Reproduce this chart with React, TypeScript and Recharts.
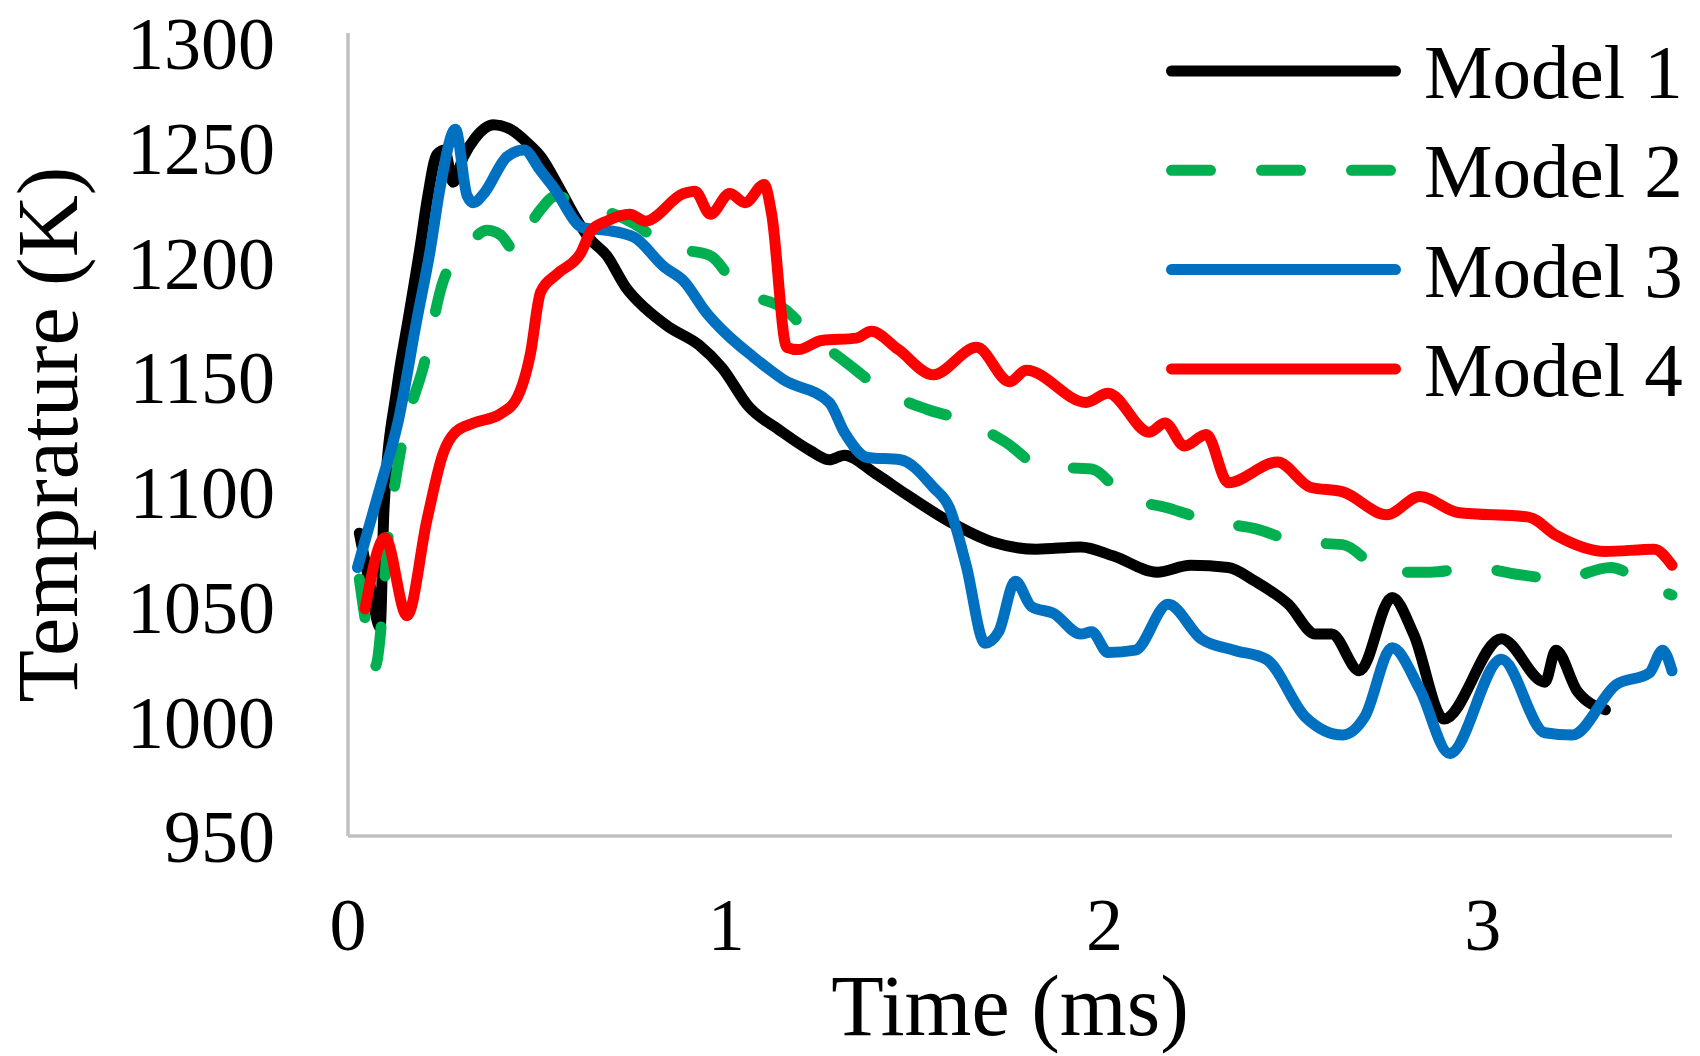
import { LineChart, Line, XAxis, YAxis, Legend } from 'recharts';

// [time (ms), temperature (K)]
const model1 = [
  [0.03, 1082], [0.06, 1058], [0.085, 1041], [0.095, 1092], [0.13, 1146], [0.16, 1176],
  [0.19, 1206], [0.21, 1228], [0.235, 1247], [0.255, 1249], [0.278, 1235], [0.305, 1246],
  [0.335, 1254], [0.385, 1260], [0.43, 1258], [0.475, 1252], [0.51, 1246], [0.56, 1232],
  [0.6, 1220], [0.635, 1211], [0.684, 1203], [0.735, 1189], [0.786, 1180], [0.847, 1172],
  [0.928, 1164], [0.989, 1154], [1.06, 1137], [1.14, 1127], [1.222, 1118], [1.273, 1114],
  [1.312, 1116], [1.394, 1108], [1.475, 1099], [1.59, 1087], [1.706, 1078], [1.82, 1075],
  [1.937, 1076], [2.024, 1072], [2.139, 1065], [2.227, 1068], [2.327, 1067], [2.398, 1061],
  [2.486, 1051], [2.558, 1038], [2.6, 1038], [2.674, 1022], [2.76, 1054], [2.817, 1038],
  [2.897, 1001], [3.049, 1036], [3.164, 1017], [3.193, 1031], [3.25, 1013], [3.324, 1005],
];

const model2 = [
  [0.03, 1062], [0.05, 1040], [0.072, 1024], [0.111, 1088], [0.146, 1124], [0.2, 1155],
  [0.252, 1192], [0.315, 1207], [0.368, 1214], [0.403, 1212], [0.447, 1204], [0.465, 1211],
  [0.509, 1223], [0.55, 1229], [0.6, 1226], [0.65, 1224], [0.755, 1217], [0.845, 1207],
  [0.957, 1203], [1.03, 1189], [1.16, 1179], [1.22, 1169], [1.32, 1156], [1.417, 1144],
  [1.53, 1136], [1.63, 1131], [1.735, 1122], [1.836, 1111], [1.966, 1110], [2.053, 1098],
  [2.168, 1093], [2.284, 1087], [2.398, 1084], [2.515, 1078], [2.629, 1077], [2.746, 1065],
  [2.861, 1065], [2.977, 1067], [3.093, 1064], [3.207, 1062], [3.338, 1067], [3.439, 1059],
  [3.5, 1055],
];

const model3 = [
  [0.025, 1067], [0.085, 1102], [0.133, 1131], [0.182, 1175], [0.217, 1205], [0.244, 1233],
  [0.284, 1258], [0.315, 1229], [0.332, 1226], [0.359, 1230], [0.42, 1246], [0.465, 1249],
  [0.509, 1240], [0.542, 1233], [0.623, 1215], [0.684, 1214], [0.756, 1211], [0.836, 1198],
  [0.887, 1192], [0.948, 1178], [0.999, 1169], [1.07, 1159], [1.15, 1149], [1.272, 1139],
  [1.312, 1126], [1.373, 1115], [1.46, 1114], [1.547, 1102], [1.59, 1093], [1.634, 1068],
  [1.684, 1034], [1.72, 1039], [1.764, 1061], [1.807, 1050], [1.865, 1047], [1.937, 1038],
  [1.966, 1039], [2.009, 1030], [2.081, 1031], [2.168, 1051], [2.255, 1036], [2.342, 1031],
  [2.428, 1027], [2.53, 1002], [2.63, 994], [2.688, 1002], [2.76, 1032], [2.833, 1014],
  [2.912, 986], [3.049, 1027], [3.164, 995], [3.236, 994], [3.353, 1016], [3.44, 1021],
  [3.475, 1031], [3.5, 1022],
];

const model4 = [
  [0.045, 1049], [0.098, 1080], [0.156, 1046], [0.209, 1088], [0.252, 1117], [0.284, 1126],
  [0.332, 1130], [0.403, 1134], [0.447, 1141], [0.482, 1160], [0.509, 1187], [0.553, 1195],
  [0.615, 1204], [0.644, 1214], [0.684, 1218], [0.745, 1221], [0.786, 1218], [0.887, 1230],
  [0.917, 1231], [0.958, 1221], [1.009, 1230], [1.05, 1226], [1.1, 1234], [1.12, 1221],
  [1.16, 1163], [1.19, 1162], [1.252, 1166], [1.344, 1167], [1.383, 1170], [1.455, 1162],
  [1.547, 1151], [1.662, 1163], [1.749, 1148], [1.793, 1153], [1.951, 1139], [2.009, 1143],
  [2.118, 1126], [2.16, 1130], [2.211, 1120], [2.269, 1125], [2.327, 1104], [2.457, 1113],
  [2.544, 1102], [2.63, 1100], [2.746, 1090], [2.833, 1098], [2.934, 1091], [3.121, 1089],
  [3.194, 1081], [3.324, 1074], [3.453, 1075], [3.5, 1068],
];

const xTicks = [0, 1, 2, 3];
const yTicks = [950, 1000, 1050, 1100, 1150, 1200, 1250, 1300];

const SERIES = [
  { name: 'Model 1', points: model1, color: '#000000', dash: undefined },
  { name: 'Model 2', points: model2, color: '#00b050', dash: '39 51' },
  { name: 'Model 3', points: model3, color: '#0070c0', dash: undefined },
  { name: 'Model 4', points: model4, color: '#ff0000', dash: undefined },
];

const FONT = '"Liberation Serif", "Times New Roman", serif';
const AXIS_COLOR = '#c0c0c0';

const toRows = (pts: number[][]) => pts.map(([time, temp]) => ({ time, temp }));

function LegendBox({ payload }: any) {
  return (
    <svg width={550} height={420}>
      {(payload || []).map((entry: any, i: number) => {
        const cfg = SERIES.find((s) => s.name === entry.value);
        const y = 71 + i * 99.3;
        return (
          <g key={entry.value}>
            <line
              x1={21.5}
              x2={245.5}
              y1={y}
              y2={y}
              stroke={cfg ? cfg.color : entry.color}
              strokeWidth={11}
              strokeLinecap="round"
              strokeDasharray={cfg?.dash}
            />
            <text x={274} y={y + 27} fontSize={77} fontFamily={FONT} fill="#000">
              {entry.value}
            </text>
          </g>
        );
      })}
    </svg>
  );
}

function XTitle({ viewBox }: any) {
  const { x, y, width } = viewBox;
  return (
    <text x={x + width / 2} y={y + 199} textAnchor="middle" fontSize={86} fontFamily={FONT} fill="#000">
      Time (ms)
    </text>
  );
}

function YTitle({ viewBox }: any) {
  const { y, height } = viewBox;
  const cx = 77;
  const cy = y + height / 2;
  return (
    <text
      x={cx}
      y={cy}
      textAnchor="middle"
      fontSize={86}
      fontFamily={FONT}
      fill="#000"
      transform={`rotate(-90, ${cx}, ${cy})`}
    >
      Temprature (K)
    </text>
  );
}

export default function App() {
  return (
    <div style={{ position: 'absolute', left: 0, top: 0, background: '#fff' }}>
      <LineChart width={1700} height={1056} margin={{ top: 33, right: 28, left: 0, bottom: 0 }}>
        <XAxis
          dataKey="time"
          type="number"
          domain={[0, 3.5]}
          ticks={xTicks}
          height={220}
          tickLine={false}
          axisLine={{ stroke: AXIS_COLOR, strokeWidth: 3.5 }}
          tick={{ fill: '#000', fontSize: 74, fontFamily: FONT }}
          tickMargin={55}
          label={<XTitle />}
        />
        <YAxis
          type="number"
          domain={[950, 1300]}
          ticks={yTicks}
          width={348}
          tickLine={false}
          axisLine={{ stroke: AXIS_COLOR, strokeWidth: 3.5 }}
          tick={{ fill: '#000', fontSize: 74, fontFamily: FONT }}
          tickMargin={67}
          label={<YTitle />}
        />
        <Legend
          layout="horizontal"
          verticalAlign="middle"
          align="center"
          wrapperStyle={{ left: 1150, top: 0, width: 550, height: 420 }}
          content={<LegendBox />}
        />
        {SERIES.map((s) => (
          <Line
            key={s.name}
            name={s.name}
            data={toRows(s.points)}
            dataKey="temp"
            type="monotone"
            stroke={s.color}
            strokeWidth={11}
            strokeDasharray={s.dash}
            strokeLinecap="round"
            strokeLinejoin="round"
            dot={false}
            activeDot={false}
            isAnimationActive={false}
          />
        ))}
      </LineChart>
    </div>
  );
}
